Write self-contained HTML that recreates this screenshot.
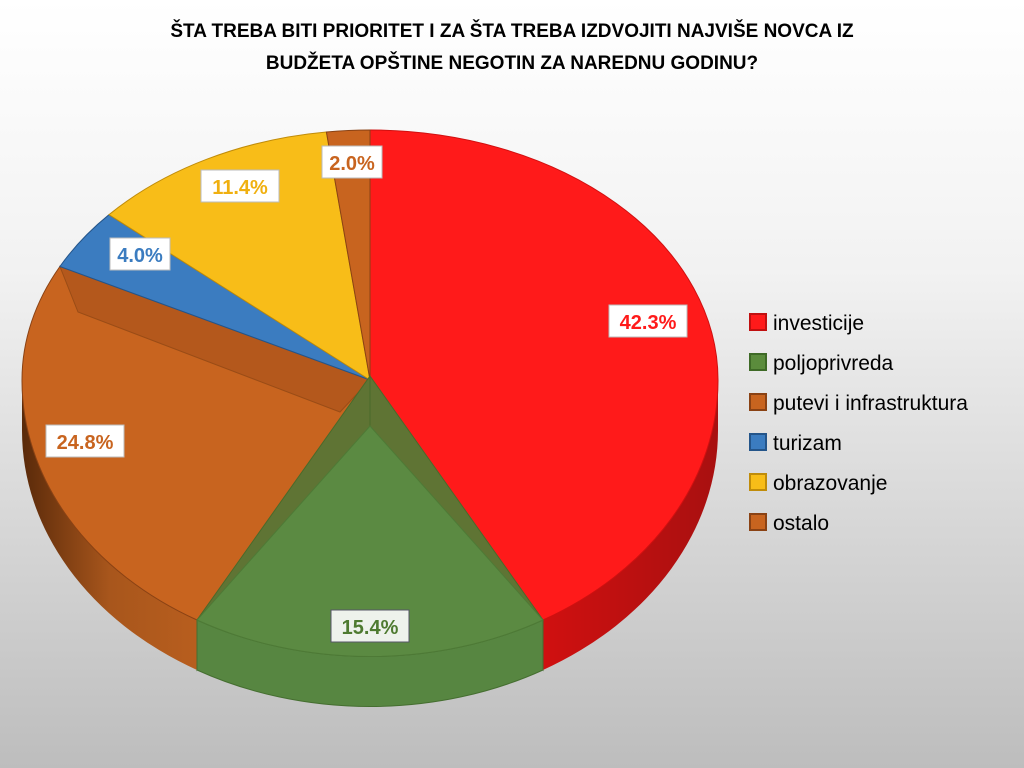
<!DOCTYPE html><html><head><meta charset="utf-8"><style>
body{margin:0;width:1024px;height:768px;overflow:hidden;background:linear-gradient(#ffffff 0%,#f2f2f2 35%,#bdbdbd 100%);font-family:"Liberation Sans",sans-serif}
</style></head><body>
<svg width="1024" height="768" viewBox="0 0 1024 768" xmlns="http://www.w3.org/2000/svg" style="position:absolute;left:0;top:0">
<defs>
<linearGradient id="sr" x1="0" y1="0" x2="1" y2="0"><stop offset="0" stop-color="#d01010"/><stop offset="1" stop-color="#a81010"/></linearGradient>
<linearGradient id="so" x1="0" y1="0" x2="1" y2="0"><stop offset="0" stop-color="#5a2a0a"/><stop offset="0.5" stop-color="#a8561c"/><stop offset="1" stop-color="#b85e1e"/></linearGradient>
</defs>
<g font-weight="bold" font-size="19" text-anchor="middle" fill="#000">
<text x="512" y="37">ŠTA TREBA BITI PRIORITET I ZA ŠTA TREBA IZDVOJITI NAJVIŠE NOVCA IZ</text>
<text x="512" y="69">BUDŽETA OPŠTINE NEGOTIN ZA NAREDNU GODINU?</text>
</g>
<!-- sides -->
<path d="M718,380 A348,276 0 0 1 543,620 L543,670 A348,276 0 0 0 718,430 Z" fill="url(#sr)"/>
<path d="M197,620 A348,276 0 0 1 22,380 L22,430 A348,276 0 0 0 197,670 Z" fill="url(#so)"/>
<!-- tops -->
<g stroke-width="1">
<path d="M370,380 L370,130 A348,250 0 0 1 718,380 A348,276 0 0 1 543,620 Z" fill="#ff1a1a" stroke="#d01010"/>
<path d="M370,380 L197,620 A348,276 0 0 1 22,380 A348,250 0 0 1 59.9,266.5 Z" fill="#c8641f" stroke="#8a4214"/>
<path d="M59.9,266.5 L78,312 L340,412 L370,380 Z" fill="#b4581c" stroke="#9a4c16"/>
<path d="M370,380 L59.9,266.5 A348,250 0 0 1 109,214.7 Z" fill="#3b7cc0" stroke="#24558a"/>
<path d="M370,380 L109,214.7 A348,250 0 0 1 326.4,132 Z" fill="#f8bd18" stroke="#c08c0a"/>
<path d="M370,380 L326.4,132 A348,250 0 0 1 370,130 Z" fill="#c8641f" stroke="#8a4214"/>
</g>
<!-- green slice -->
<path d="M370,376 L543,620 L543,670 L370,428 Z" fill="#5f7434" stroke="#4a6a2a"/>
<path d="M370,376 L197,620 L197,670 L370,428 Z" fill="#5f7434" stroke="#4a6a2a"/>
<path d="M543,620 A348,276 0 0 1 197,620 L197,670 A348,276 0 0 0 543,670 Z" fill="#578641" stroke="#456e30"/>
<path d="M370,426 L543,620 A348,276 0 0 1 197,620 Z" fill="#5b8a42" stroke="#4e7a36"/>
<!-- labels -->
<g font-weight="bold" font-size="20" text-anchor="middle">
<rect x="609" y="305" width="78" height="32" fill="#fff" stroke="#bbb"/><text x="648" y="329" fill="#ff1a1a">42.3%</text>
<rect x="331" y="610" width="78" height="32" fill="#eef2ec" stroke="#556"/><text x="370" y="634" fill="#4e7a30">15.4%</text>
<rect x="46" y="425" width="78" height="32" fill="#fff" stroke="#bbb"/><text x="85" y="449" fill="#c8641f">24.8%</text>
<rect x="110" y="238" width="60" height="32" fill="#fff" stroke="#bbb"/><text x="140" y="262" fill="#3b7cc0">4.0%</text>
<rect x="201" y="170" width="78" height="32" fill="#fff" stroke="#bbb"/><text x="240" y="194" fill="#f0b010">11.4%</text>
<rect x="322" y="146" width="60" height="32" fill="#fff" stroke="#bbb"/><text x="352" y="170" fill="#c8641f">2.0%</text>
</g>
<!-- legend -->
<g font-size="21" fill="#000" stroke-width="2">
<rect x="750" y="314" width="16" height="16" fill="#ff1a1a" stroke="#c01010"/><text x="773" y="330">investicije</text>
<rect x="750" y="354" width="16" height="16" fill="#5b8c3c" stroke="#3e6a26"/><text x="773" y="370">poljoprivreda</text>
<rect x="750" y="394" width="16" height="16" fill="#c8641f" stroke="#8a4214"/><text x="773" y="410">putevi i infrastruktura</text>
<rect x="750" y="434" width="16" height="16" fill="#3b7cc0" stroke="#24558a"/><text x="773" y="450">turizam</text>
<rect x="750" y="474" width="16" height="16" fill="#f8bd18" stroke="#c08c0a"/><text x="773" y="490">obrazovanje</text>
<rect x="750" y="514" width="16" height="16" fill="#c8641f" stroke="#8a4214"/><text x="773" y="530">ostalo</text>
</g>
</svg>
</body></html>
